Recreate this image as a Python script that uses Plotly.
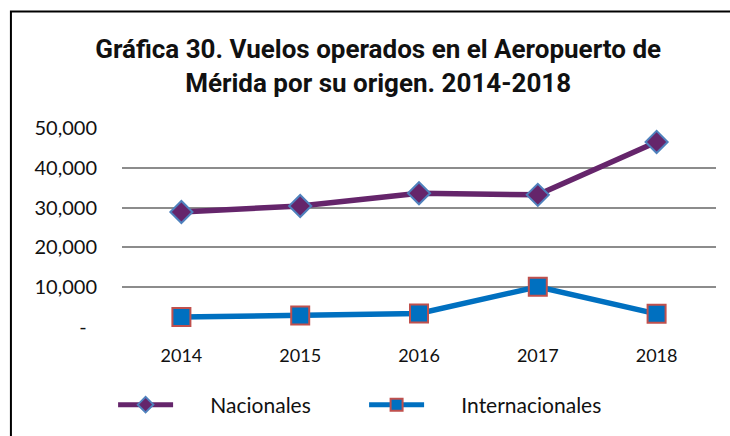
import plotly.graph_objects as go

years = ["2014", "2015", "2016", "2017", "2018"]
nacionales = [28900, 30400, 33600, 33200, 46500]
internacionales = [2500, 2900, 3400, 10100, 3300]
y_tickvals = [0, 10000, 20000, 30000, 40000, 50000]
y_ticktext = ["-\u00a0\u00a0", "10,000", "20,000", "30,000", "40,000", "50,000"]
series_names = ["Nacionales", "Internacionales"]

pad = "\u00a0" * 6

fig = go.Figure()
fig.add_trace(go.Scatter(
    x=years, y=nacionales, name=pad + series_names[0], mode="lines+markers",
    line=dict(color="#65256b", width=5.5),
    marker=dict(symbol="diamond", size=17, color="#65256b",
                line=dict(color="#4f81bd", width=2)),
))
fig.add_trace(go.Scatter(
    x=years, y=internacionales, name=pad + series_names[1], mode="lines+markers",
    line=dict(color="#0070c0", width=5.5),
    marker=dict(symbol="square", size=18, color="#0070c0",
                line=dict(color="#c0504d", width=2)),
))

# frame (top and left border)
fig.add_shape(type="path", xref="paper", yref="paper",
              path="M -0.187,-0.55 L -0.187,1.585 L 1.03,1.585",
              line=dict(color="black", width=2))

fig.update_layout(
    width=730, height=436,
    margin=dict(l=122, r=14, t=128, b=108),
    paper_bgcolor="white", plot_bgcolor="white",
    title=dict(
        text="<b>Gráfica 30. Vuelos operados en el Aeropuerto de<br>Mérida por su origen. 2014-2018</b>",
        x=0.518, xanchor="center", xref="container",
        y=0.867, yanchor="middle", yref="container",
        font=dict(family="Roboto", size=26, color="#111111"),
    ),
    xaxis=dict(
        type="category", range=[-0.5, 4.5],
        showgrid=False, showline=False, zeroline=False,
        ticks="", ticklabelstandoff=16,
        tickfont=dict(family="Lato", size=18, color="#111111"),
    ),
    yaxis=dict(
        range=[0, 50000], tickvals=y_tickvals, ticktext=y_ticktext,
        showgrid=True, gridcolor="#8c8c8c", gridwidth=2,
        zeroline=False, showline=False, ticks="", ticklabelstandoff=24,
        tickfont=dict(family="Lato", size=20, color="#111111"),
    ),
    legend=dict(
        orientation="h", x=-0.015, xanchor="left", y=-0.385, yanchor="middle",
        entrywidth=181, entrywidthmode="pixels", itemwidth=55,
        itemsizing="constant",
        font=dict(family="Lato", size=21, color="#111111"),
    ),
    showlegend=True,
)

fig.write_html("out.html", config={"displayModeBar": False},
               post_script="document.body.style.margin='0';")
